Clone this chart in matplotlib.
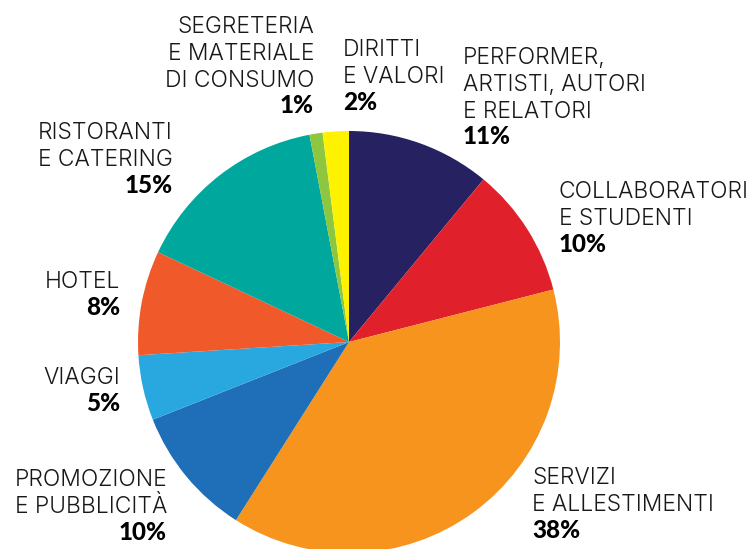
"""Pie of cost shares: clockwise from 12 o'clock, labels placed around it."""
import matplotlib
matplotlib.use("Agg")
import matplotlib.pyplot as plt
from matplotlib import font_manager

categories = [
    ["PERFORMER,", "ARTISTI, AUTORI", "E RELATORI"],
    ["COLLABORATORI", "E STUDENTI"],
    ["SERVIZI", "E ALLESTIMENTI"],
    ["PROMOZIONE", "E PUBBLICITÀ"],
    ["VIAGGI"],
    ["HOTEL"],
    ["RISTORANTI", "E CATERING"],
    ["SEGRETERIA", "E MATERIALE", "DI CONSUMO"],
    ["DIRITTI", "E VALORI"],
]
shares = [11, 10, 38, 10, 5, 8, 15, 1, 2]
colors = ["#262262", "#E0202A", "#F7941E", "#1E6EB8", "#29A8E0",
          "#F05A2B", "#00A79D", "#8DC63F", "#FFF200"]

# label block anchors in pixels: (x, cap top of first line, alignment)
label_pos = [
    (463, 48, "left"), (559, 182, "left"), (532, 468, "left"),
    (167, 470, "right"), (120, 368, "right"), (120, 272, "right"),
    (173, 123, "right"), (314, 17, "right"), (343, 40, "left"),
]

W, H = 756, 549
fig = plt.figure(figsize=(W / 100, H / 100), dpi=100)
ax = fig.add_axes([0, 0, 1, 1])

ax.pie(shares, colors=colors, startangle=90, counterclock=False,
       center=(349, H - 342), radius=211,
       wedgeprops=dict(linewidth=0, antialiased=True))
ax.set_xlim(0, W)
ax.set_ylim(0, H)
ax.set_aspect("auto")
ax.axis("off")

names = {f.name for f in font_manager.fontManager.ttflist}
label_font = "Inter" if "Inter" in names else "DejaVu Sans"
pct_font = "Lato" if "Lato" in names else "DejaVu Sans"
pitch = 26.7
cap = 16.3
ink = "#1a1718"

for lines, share, (x, top, ha) in zip(categories, shares, label_pos):
    for i, line in enumerate(lines):
        ax.text(x, H - (top + cap + i * pitch), line, ha=ha, va="baseline",
                fontsize=16.4, family=label_font, fontweight=300, color=ink)
    ax.text(x, H - (top + cap + len(lines) * pitch), f"{share}%", ha=ha,
            va="baseline", fontsize=17.5, family=pct_font, fontweight="black",
            color="black")

fig.savefig("out.png", dpi=100)
